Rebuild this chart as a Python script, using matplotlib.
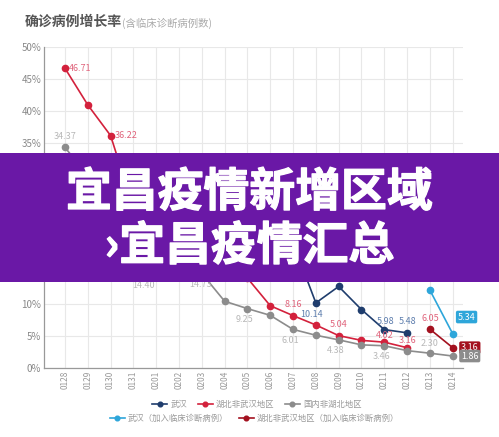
import matplotlib
matplotlib.use('Agg')
import matplotlib.pyplot as plt
import matplotlib.patheffects as pe
import numpy as np
from matplotlib.patches import Rectangle

plt.rcParams['font.family'] = ['Noto Sans CJK SC', 'DejaVu Sans']

dates = ['0128', '0129', '0130', '0131', '0201', '0202', '0203', '0204', '0205',
         '0206', '0207', '0208', '0209', '0210', '0211', '0212', '0213', '0214']
nan = np.nan
# 增长率 (%)
wuhan = [28.0, 25.0, 22.0, 20.0, 21.0, 22.0, 19.0, 18.0, 16.0,
         17.0, 19.5, 10.14, 12.7, 9.1, 5.98, 5.48, nan, nan]
hubei_other = [46.71, 41.0, 36.22, 25.0, 22.0, 20.0, 18.0, 17.0, 14.0,
               9.7, 8.16, 6.7, 5.04, 4.3, 4.02, 3.16, nan, nan]
china_other = [34.37, 30.0, 24.0, 14.40, 16.0, 16.0, 14.73, 10.4, 9.25,
               8.2, 6.01, 5.1, 4.38, 3.6, 3.46, 2.7, 2.30, 1.86]
wuhan_clin = [nan] * 16 + [12.13, 5.34]
hubei_clin = [nan] * 16 + [6.05, 3.16]

c_wuhan = '#1f3d6d'
c_hubei = '#d3213c'
c_china = '#8c8c8c'
c_wuhan_clin = '#2ea6da'
c_hubei_clin = '#a3111f'

fig = plt.figure(figsize=(4.99, 4.37), dpi=100)
ax = fig.add_axes([0.0882, 0.158, 0.84, 0.734])
x = np.arange(len(dates))

series = [
    (wuhan, c_wuhan, '武汉'),
    (hubei_other, c_hubei, '湖北非武汉地区'),
    (china_other, c_china, '国内非湖北地区'),
    (wuhan_clin, c_wuhan_clin, '武汉（加入临床诊断病例）'),
    (hubei_clin, c_hubei_clin, '湖北非武汉地区（加入临床诊断病例）'),
]
lines = []
for vals, col, name in series:
    ln, = ax.plot(x, vals, color=col, lw=1.2, marker='o', ms=4.5, label=name, zorder=3)
    lines.append(ln)

# data labels
def lab(vals, i, col, dx, dy, ha='center', box=None):
    kw = dict(textcoords='offset points', xytext=(dx, dy), ha=ha, va='center',
              fontsize=6.5, color=col, zorder=5)
    if box:
        kw['bbox'] = dict(boxstyle='round,pad=0.2', fc=box, ec='none')
    ax.annotate(f'{vals[i]:.2f}', (x[i], vals[i]), **kw)

lc_red = '#e0647c'
lc_blue = '#5f7fae'
lc_gray = '#b8b8b8'
lab(hubei_other, 0, lc_red, 3, 0, ha='left')
lab(hubei_other, 2, lc_red, 3, 0, ha='left')
lab(hubei_other, 8, lc_red, 3, 0, ha='left')
lab(hubei_other, 10, lc_red, 0, 8)
lab(hubei_other, 12, lc_red, 0, 8)
lab(hubei_other, 14, lc_red, 0, 5)
lab(hubei_other, 15, lc_red, 0, 5)
lab(wuhan, 11, lc_blue, -3, -8)
lab(wuhan, 14, lc_blue, 1, 6)
lab(wuhan, 15, lc_blue, 0, 8)
lab(china_other, 0, lc_gray, 0, 8)
lab(china_other, 3, lc_gray, 7, -7)
lab(china_other, 6, lc_gray, -1, -8)
lab(china_other, 8, lc_gray, -2, -8)
lab(china_other, 10, lc_gray, -2, -8)
lab(china_other, 12, lc_gray, -2, -8)
lab(china_other, 14, lc_gray, -2, -8)
lab(china_other, 16, lc_gray, 0, 7)
lab(hubei_clin, 16, lc_red, 0, 8)
lab(wuhan_clin, 16, lc_blue, 0, 8)
lab(wuhan_clin, 17, 'white', 10, 12, box=c_wuhan_clin)
lab(hubei_clin, 17, 'white', 6, 0, ha='left', box=c_hubei_clin)
lab(china_other, 17, 'white', 6, 0, ha='left', box=c_china)

ax.set_xlim(-0.92, 17.46)
ax.set_ylim(0, 50)
ax.set_xticks(x)
ax.set_xticklabels(dates, rotation=90, fontsize=6, color='#999999')
ax.set_yticks(np.arange(0, 51, 5))
ax.set_yticklabels([f'{v}%' for v in range(0, 51, 5)], fontsize=7, color='#888888')
ax.tick_params(length=0, pad=2)
ax.grid(True, color='#e8e8e8', lw=0.8)
ax.set_axisbelow(True)
for s in ['top', 'right']:
    ax.spines[s].set_visible(False)
for s in ['left', 'bottom']:
    ax.spines[s].set_color('#999999')
    ax.spines[s].set_linewidth(0.9)

# title
fig.text(0.05, 0.95, '确诊病例增长率', fontsize=10, fontweight='bold', color='#555555', va='center')
fig.text(0.245, 0.947, '(含临床诊断病例数)', fontsize=7.5, color='#aaaaaa', va='center')

# legends
leg_kw = dict(loc='center', frameon=False, fontsize=6, handlelength=1.8, columnspacing=1.2,
              handletextpad=0.4, labelcolor='#999999', markerscale=0.75)
fig.legend(lines[:3], [s[2] for s in series[:3]], bbox_to_anchor=(0.515, 0.0755), ncol=3, **leg_kw)
fig.legend(lines[3:], [s[2] for s in series[3:]], bbox_to_anchor=(0.51, 0.0435), ncol=2, **leg_kw)

# banner overlay
fig.patches.append(Rectangle((0, 0.3547), 1, 0.2952, transform=fig.transFigure,
                             facecolor='#6a18a6', edgecolor='none', zorder=10))
bold = [pe.withStroke(linewidth=0.9, foreground='white')]
fig.text(0.5, 0.558, '宜昌疫情新增区域', fontsize=33, fontweight='heavy', color='white',
         ha='center', va='center', zorder=11, path_effects=bold)
fig.text(0.5, 0.435, '›宜昌疫情汇总', fontsize=33, fontweight='heavy', color='white',
         ha='center', va='center', zorder=11, path_effects=bold)

fig.savefig('out.png', dpi=100)
